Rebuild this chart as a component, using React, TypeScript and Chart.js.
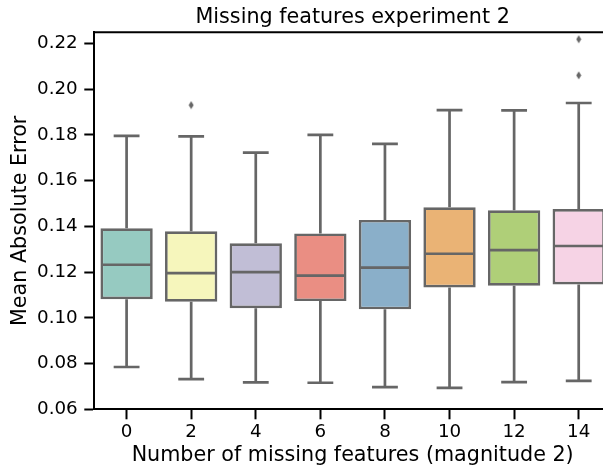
import React, { useEffect, useRef } from "react";
import { Chart, registerables } from "chart.js";

Chart.register(...registerables);

const categories = ["0", "2", "4", "6", "8", "10", "12", "14"];
const whiskerLow = [0.0785, 0.0732, 0.0718, 0.0716, 0.0697, 0.0694, 0.0719, 0.0724];
const q1 = [0.1081, 0.107, 0.1042, 0.1073, 0.1037, 0.1133, 0.114, 0.1146];
const median = [0.1232, 0.1195, 0.12, 0.1184, 0.1219, 0.128, 0.1296, 0.1314];
const q3 = [0.1391, 0.1378, 0.1326, 0.1369, 0.1428, 0.1483, 0.147, 0.1476];
const whiskerHigh = [0.1795, 0.1793, 0.1722, 0.18, 0.176, 0.1908, 0.1907, 0.1939];
const outlierCategory = ["2", "14", "14"];
const outlierValue = [0.193, 0.206, 0.2218];
const yTicks = [0.06, 0.08, 0.1, 0.12, 0.14, 0.16, 0.18, 0.2, 0.22];
const boxColors = ["#96CAC1", "#F6F6BC", "#C1BED6", "#EA8E83", "#8AAFC9", "#EAB375", "#AFCF78", "#F6D3E5"];

const LINE = "#666666";
const FONT = "'DejaVu Sans', sans-serif";

function makeDiamond(): HTMLCanvasElement {
  const c = document.createElement("canvas");
  c.width = 6;
  c.height = 9;
  const g = c.getContext("2d")!;
  g.fillStyle = LINE;
  g.beginPath();
  g.moveTo(3, 0.5);
  g.lineTo(5.5, 4.5);
  g.lineTo(3, 8.5);
  g.lineTo(0.5, 4.5);
  g.closePath();
  g.fill();
  return c;
}

const boxPlugin = {
  id: "boxWhiskers",
  afterDatasetsDraw(chart: any) {
    const ctx = chart.ctx;
    const xs = chart.scales.x;
    const ys = chart.scales.y;
    const catW = (xs.right - xs.left) / categories.length;
    const capHalf = catW * 0.2;
    const boxHalf = catW * 0.4;
    ctx.save();
    ctx.strokeStyle = LINE;
    ctx.lineWidth = 2.7;
    ctx.lineCap = "butt";
    categories.forEach((_, i) => {
      const x = xs.getPixelForValue(i);
      const yLo = ys.getPixelForValue(whiskerLow[i]);
      const yQ1 = ys.getPixelForValue(q1[i]);
      const yQ3 = ys.getPixelForValue(q3[i]);
      const yHi = ys.getPixelForValue(whiskerHigh[i]);
      const yMed = ys.getPixelForValue(median[i]);
      ctx.beginPath();
      ctx.moveTo(x, yQ1);
      ctx.lineTo(x, yLo);
      ctx.moveTo(x - capHalf, yLo);
      ctx.lineTo(x + capHalf, yLo);
      ctx.moveTo(x, yQ3);
      ctx.lineTo(x, yHi);
      ctx.moveTo(x - capHalf, yHi);
      ctx.lineTo(x + capHalf, yHi);
      ctx.moveTo(x - boxHalf + 1, yMed);
      ctx.lineTo(x + boxHalf - 1, yMed);
      ctx.stroke();
    });
    const a = chart.chartArea;
    ctx.strokeStyle = "#000";
    ctx.lineWidth = 2;
    ctx.beginPath();
    ctx.moveTo(a.left - 1, a.top);
    ctx.lineTo(a.right, a.top);
    ctx.stroke();
    ctx.restore();
  },
};

export default function App() {
  const ref = useRef<HTMLCanvasElement | null>(null);
  useEffect(() => {
    if (!ref.current) return;
    const diamond = makeDiamond();
    const chart = new Chart(ref.current, {
      type: "bar",
      data: {
        labels: categories,
        datasets: [
          {
            type: "bar",
            data: categories.map((_, i) => [q1[i], q3[i]]) as any,
            backgroundColor: boxColors,
            borderColor: LINE,
            borderWidth: 2.7,
            borderSkipped: false,
            barPercentage: 0.81,
            categoryPercentage: 1.0,
            order: 2,
          } as any,
          {
            type: "line",
            data: outlierCategory.map((c, i) => ({ x: c, y: outlierValue[i] })) as any,
            showLine: false,
            pointStyle: diamond as any,
            pointRadius: 4,
            pointHoverRadius: 4,
            backgroundColor: LINE,
            borderColor: LINE,
            order: 1,
          } as any,
        ],
      },
      options: {
        responsive: false,
        animation: false,
        layout: { padding: 0, autoPadding: false },
        plugins: {
          legend: { display: false },
          tooltip: { enabled: false },
          title: {
            display: true,
            text: "Missing features experiment 2",
            fullSize: false,
            color: "#000",
            font: { family: FONT, size: 20.7, weight: "normal" as any, lineHeight: 1.2 },
            padding: { top: 5.4, bottom: 2.1 },
          },
        },
        scales: {
          x: {
            type: "category",
            offset: true,
            grid: {
              display: true,
              offset: false,
              drawOnChartArea: false,
              drawTicks: true,
              tickLength: 10,
              tickWidth: 2,
              tickColor: "#000",
            },
            border: { display: true, color: "#000", width: 2 },
            ticks: {
              color: "#000",
              font: { family: FONT, size: 18.3 },
              padding: 2.2,
              maxRotation: 0,
              autoSkip: false,
            },
            title: {
              display: true,
              text: "Number of missing features (magnitude 2)",
              color: "#000",
              font: { family: FONT, size: 20.7, lineHeight: 1.2 },
              padding: { top: 0, bottom: 1.9 },
            },
            afterFit: (s: any) => {
              s.height = 60.7;
              s.paddingLeft = 0;
              s.paddingRight = 0;
            },
          },
          y: {
            type: "linear",
            min: 0.06,
            max: 0.2248,
            grid: {
              display: true,
              drawOnChartArea: false,
              drawTicks: true,
              tickLength: 10,
              tickWidth: 2,
              tickColor: "#000",
            },
            border: { display: true, color: "#000", width: 2 },
            afterBuildTicks: (s: any) => {
              s.ticks = yTicks.map((v) => ({ value: v }));
            },
            ticks: {
              color: "#000",
              font: { family: FONT, size: 18.3 },
              padding: 6.6,
              callback: (v: any) => Number(v).toFixed(2),
            },
            title: {
              display: true,
              text: "Mean Absolute Error",
              color: "#000",
              font: { family: FONT, size: 20.7, lineHeight: 1.2 },
              padding: { top: 8.4, bottom: 0 },
            },
            afterFit: (s: any) => {
              s.width = 94.3;
              s.paddingTop = 0;
              s.paddingBottom = 0;
            },
          },
        },
      },
      plugins: [boxPlugin],
    });
    return () => chart.destroy();
  }, []);
  return (
    <div
      style={{
        position: "fixed",
        left: 0,
        top: 0,
        width: 603,
        height: 470,
        overflow: "hidden",
        background: "#fff",
      }}
    >
      <canvas ref={ref} width={611} height={470} style={{ display: "block", width: 611, height: 470 }} />
    </div>
  );
}
